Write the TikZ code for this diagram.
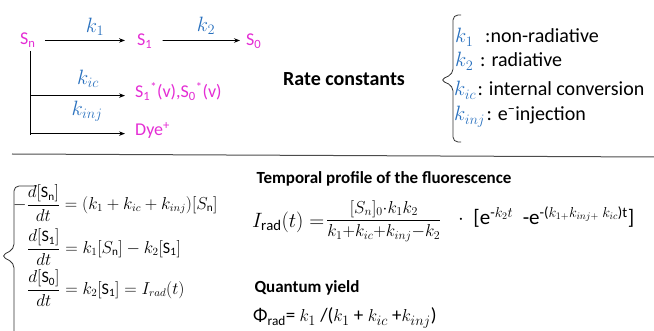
\documentclass[tikz,border=0pt]{standalone}
\usepackage{amsmath}
\usepackage{fontspec}
\setmainfont{Carlito}
\usetikzlibrary{arrows.meta}
\definecolor{mag}{RGB}{228,45,212}
\definecolor{kblue}{RGB}{40,112,190}
\begin{document}
\begin{tikzpicture}[x=1pt,y=1pt,
  state/.style={text=mag,font=\fontsize{18}{22}\selectfont,inner sep=0pt,anchor=base west},
  klab/.style={text=kblue,font=\fontsize{21}{24}\selectfont,inner sep=0pt},
  arr/.style={-{Stealth[length=6pt,width=4.5pt]},line width=0.8pt},
  bold/.style={font=\bfseries\fontsize{20}{24}\selectfont,inner sep=0pt},
  item/.style={font=\fontsize{20}{24}\selectfont,inner sep=0pt,anchor=base west},
  eq/.style={font=\fontsize{16}{18}\selectfont,inner sep=0pt,anchor=west},
  brc/.style={line width=0.8pt,draw=black!80,rounded corners=5pt}
]
\useasboundingbox (0,0) rectangle (654,-331);
% kinetic scheme
\node[state] (Sn) at (20,-45) {S\textsubscript{n}};
\node[state] (S1) at (137,-46) {S\textsubscript{1}};
\node[state] (S0) at (246,-46) {S\textsubscript{0}};
\node[state] (Sv) at (135,-98) {S\textsubscript{1}\textsuperscript{*}(v),S\textsubscript{0}\textsuperscript{*}(v)};
\node[state] (Dye) at (135,-136) {Dye\textsuperscript{+}};
\draw[arr] ([xshift=9pt,yshift=0pt]Sn.east) -- ([xshift=-12pt,yshift=1pt]S1.west);
\draw[arr] ([xshift=10pt,yshift=1pt]S1.east) -- ([xshift=-6pt,yshift=1pt]S0.west);
\coordinate (Sb) at ([xshift=3pt,yshift=-3pt]Sn.south);
\draw[line width=0.8pt] (Sb) -- ([yshift=-1pt]Sb |- Dye.mid west);
\draw[arr] (Sb |- Sv.mid west) -- ([xshift=-10pt]Sv.mid west);
\draw[arr] (Sb |- Dye.mid west) -- ([xshift=-10pt]Dye.mid west);
\node[klab] (k1) at (95,-27) {$k_1$};
\node[klab] (k2) at (206,-26) {$k_2$};
\node[klab] (kic) at (88,-79) {$k_{ic}$};
\node[klab] (kinj) at (87,-111) {$k_{inj}$};
% rate constants
\node[bold] (rc) at (344,-79) {Rate constants};
\coordinate (bt) at (461,-15);
\coordinate (bb) at (461,-142);
\coordinate (btip) at (440,-80);
\draw[brc] (bt) -- (453,-15) -- (453,-74) -- (btip) -- (453,-86) -- (453,-142) -- (bb);
\node[klab,anchor=base west] (r1) at (455,-43) {$k_1$};
\node[item] (t1) at (485,-43) {:non-radiative};
\node[klab,anchor=base west] (r2) at (455,-67) {$k_2$};
\node[item] (t2) at (480,-67) {: radiative};
\node[klab,anchor=base west] (r3) at (454,-96) {$k_{ic}$};
\node[item] (t3) at ([xshift=1pt]r3.base east) {: internal conversion};
\node[klab,anchor=base west] (r4) at (454,-121) {$k_{inj}$};
\node[item] (t4) at ([xshift=1pt]r4.base east) {: e\textsuperscript{\textminus}injection};
% divider
\coordinate (dl) at (12,-154);
\coordinate (dr) at (654,-157);
\draw[line width=1pt,draw=black!70] (dl) -- (dr);
% equations
\coordinate (lt) at (37,-186);
\coordinate (lb) at (14,-336);
\coordinate (ltip) at (1,-256);
\draw[brc] (lt) -- (14,-186) -- (14,-249) -- (ltip) -- (14,-263) -- (lb);
\node[eq] (e1) at (13,-203) {$-\dfrac{d[\mathrm{S_n}]}{dt}=(k_1+k_{ic}+k_{inj})[S_\mathrm{n}]$};
\node[eq] (e2) at (27,-247) {$\dfrac{d[\mathrm{S_1}]}{dt}=k_1[S_\mathrm{n}]-k_2[\mathrm{S_1}]$};
\node[eq] (e3) at (27,-288) {$\dfrac{d[\mathrm{S_0}]}{dt}=k_2[\mathrm{S_1}]=I_{rad}(t)$};
\node[bold,font=\bfseries\fontsize{17}{20}\selectfont] (tp) at (384,-179) {Temporal profile of the fluorescence};
\node[eq,font=\fontsize{21}{24}\selectfont] (ir) at (252,-222) {$I_{\mathrm{rad}}(t)=$};
\node[eq,font=\fontsize{17}{20}\selectfont] (fr) at (326,-221) {$\dfrac{[S_n]_0{\cdot}k_1k_2}{k_1{+}k_{ic}{+}k_{inj}{-}k_2}$};
\node[eq,font=\fontsize{21}{24}\selectfont] (br) at (458,-217) {$\cdot$\ \ [e\textsuperscript{-$k_2t$}\ \ -e\textsuperscript{-($k_{1+}k_{inj+}\ k_{ic}$)t}]};
\node[bold,font=\bfseries\fontsize{17}{20}\selectfont] (qy) at (307,-288) {Quantum yield};
\node[eq,font=\fontsize{19}{22}\selectfont] (phi) at (253,-318) {Φ\textsubscript{rad}= $k_1$ /($k_1$ + $k_{ic}$ +$k_{inj}$)};
\end{tikzpicture}
\end{document}
